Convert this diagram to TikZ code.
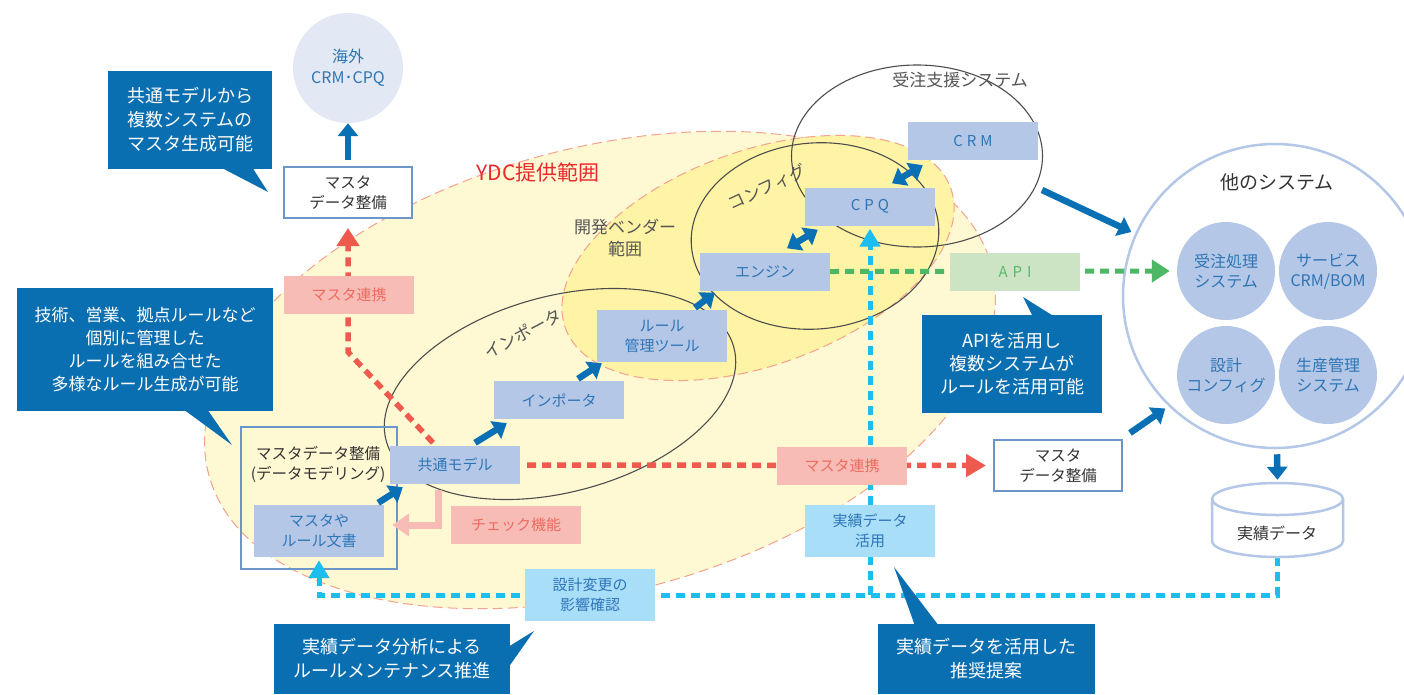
\documentclass[tikz,border=0pt]{standalone}
\usepackage{fontspec}
\setmainfont{Noto Sans CJK JP}
\usetikzlibrary{arrows.meta,shapes.geometric,calc}
\pgfdeclarelayer{bg}
\pgfdeclarelayer{mid}
\pgfsetlayers{bg,mid,main}
\definecolor{boxblue}{HTML}{B4C7E7}
\definecolor{txtblue}{HTML}{2E75B6}
\definecolor{callblue}{HTML}{0A6FB1}
\definecolor{arrblue}{HTML}{0A70B5}
\definecolor{pinkbox}{HTML}{F8BCB6}
\definecolor{pinktxt}{HTML}{EE6B5F}
\definecolor{reddash}{HTML}{EF5A4E}
\definecolor{cyandash}{HTML}{1CBEF0}
\definecolor{cyanbox}{HTML}{A9DEF9}
\definecolor{greendash}{HTML}{4CB765}
\definecolor{apibox}{HTML}{CCE4C4}
\definecolor{apitxt}{HTML}{5CB86D}
\definecolor{outl}{HTML}{6C95C9}
\definecolor{ylight}{HTML}{FFF9D3}
\definecolor{ydark}{HTML}{FFF3A5}
\definecolor{ydash}{HTML}{F4A28D}
\definecolor{kaigaifill}{HTML}{E2E9F4}
\definecolor{ydc}{HTML}{E8292E}
\definecolor{lbl}{HTML}{555555}
\definecolor{dtxt}{HTML}{333333}
\definecolor{ellgray}{HTML}{4D4D4D}
\begin{document}
\begin{tikzpicture}[x=1pt,y=-1pt,
 bx/.style={fill=boxblue,text=txtblue,inner sep=0pt,minimum width=130pt,minimum height=38pt,align=center,font=\fontsize{15}{20}\selectfont},
 bxtwo/.style={bx,minimum height=52pt},
 pk/.style={bx,fill=pinkbox,text=pinktxt},
 cy/.style={bxtwo,fill=cyanbox},
 wb/.style={draw=outl,line width=2pt,fill=white,text=dtxt,inner sep=0pt,minimum width=128pt,minimum height=51pt,align=center,font=\fontsize{15.5}{20}\selectfont},
 call/.style={fill=callblue,text=white,inner sep=0pt,align=center,font=\fontsize{18}{24}\selectfont},
 sc/.style={circle,fill=boxblue,text=txtblue,inner sep=0pt,minimum size=98pt,align=center,font=\fontsize{16}{20}\selectfont},
 lab/.style={text=lbl,font=\fontsize{17}{22}\selectfont,align=center,inner sep=0pt},
 blk/.style={draw=ellgray,line width=1.1pt},
 ba/.style={draw=arrblue,line width=6.5pt,-{Triangle[length=13pt,width=20pt]}},
 bda/.style={draw=arrblue,line width=6.5pt,{Triangle[length=13pt,width=20pt]}-{Triangle[length=13pt,width=20pt]}},
 rdash/.style={draw=reddash,line width=5.5pt,dash pattern=on 9pt off 6pt},
 cdash/.style={draw=cyandash,line width=5pt,dash pattern=on 9pt off 6pt},
 gdash/.style={draw=greendash,line width=5pt,dash pattern=on 9pt off 6pt},
]
\useasboundingbox (0,0) rectangle (1404,694);

\begin{pgfonlayer}{bg}
\fill[white] (0,0) rectangle (1404,694);
\filldraw[fill=ylight,draw=ydash,line width=1pt,dash pattern=on 10pt off 5pt,rotate around={15:(600,370)}] (600,370) ellipse [x radius=405,y radius=222];
\filldraw[fill=ydark,draw=ydash,line width=1pt,dash pattern=on 10pt off 5pt,rotate around={20:(758,258)}] (758,258) ellipse [x radius=205,y radius=107];
\draw[blk,rotate around={15:(560,394)}] (560,394) ellipse [x radius=180,y radius=98];
\draw[blk,rotate around={5:(815,236)}] (815,236) ellipse [x radius=124,y radius=93];
\node[ellipse,blk,inner sep=0pt,minimum width=251pt,minimum height=182pt] (juchu) at (917,156) {};
\node[circle,draw=boxblue,line width=2.5pt,fill=white,minimum size=304pt,inner sep=0pt] (oth) at (1275,296) {};
\node[text=ydc,font=\fontsize{21}{24}\selectfont,inner sep=0pt] (ydcl) at (538,172) {YDC提供範囲};
\node[lab] (vend) at (625,238) {開発ベンダー\\範囲};
\node[lab] (jl) at (960,80) {受注支援システム};
\node[lab,rotate=28] (impl) at (523,333) {インポータ};
\node[lab,rotate=25] (confl) at (767,187) {コンフィグ};
\node[text=dtxt,font=\fontsize{19}{22}\selectfont,inner sep=0pt] (othl) at (1277,182) {他のシステム};
\end{pgfonlayer}

% nodes
\node[circle,fill=kaigaifill,text=txtblue,minimum size=110pt,inner sep=0pt,align=center,font=\fontsize{16}{21}\selectfont] (kaigai) at (348,68) {海外\\CRM･CPQ};
\node[wb] (masta1) at (348,192.5) {マスタ\\データ整備};
\node[call,minimum width=164pt,minimum height=98pt] (c1) at (190,120) {共通モデルから\\複数システムの\\マスタ生成可能};
\node[call,minimum width=256pt,minimum height=123pt,font=\fontsize{17}{23}\selectfont] (c2) at (145,349.5) {技術、営業、拠点ルールなど\\個別に管理した\\ルールを組み合せた\\多様なルール生成が可能};
\node[pk] (renkei1) at (349,294.5) {マスタ連携};
\node[bx] (kyotsu) at (455,465) {共通モデル};
\node[bxtwo] (mastaya) at (319,531) {マスタや\\ルール文書};
\node[text=dtxt,font=\fontsize{15.5}{20}\selectfont,align=center,inner sep=0pt] (oboxl) at (318,464.5) {マスタデータ整備\\(データモデリング)};
\node[pk] (check) at (516,524.5) {チェック機能};
\node[bx] (importer) at (559,400) {インポータ};
\node[bxtwo] (rule) at (662,336) {ルール\\管理ツール};
\node[bx] (engine) at (765,271.5) {エンジン};
\node[bx] (cpq) at (870,206.5) {C\hspace{4pt}P\hspace{4pt}Q};
\node[bx] (crm) at (973,141) {C\hspace{4pt}R\hspace{4pt}M};
\node[bx,fill=apibox,text=apitxt] (api) at (1015,271.5) {A\hspace{5pt}P\hspace{5pt}I};
\node[call,minimum width=180pt,minimum height=98pt,font=\fontsize{18}{23}\selectfont] (c3) at (1012,364) {APIを活用し\\複数システムが\\ルールを活用可能};
\node[pk] (renkei2) at (842,465.5) {マスタ連携};
\node[wb] (masta2) at (1058,465.5) {マスタ\\データ整備};
\node[cy] (katsuyo) at (870,531) {実績データ\\活用};
\node[cy] (sekkei) at (590,595) {設計変更の\\影響確認};
\node[call,minimum width=236pt,minimum height=70pt] (c4) at (392,659) {実績データ分析による\\ルールメンテナンス推進};
\node[call,minimum width=217pt,minimum height=70pt] (c5) at (986.5,659) {実績データを活用した\\推奨提案};
\node[sc] (s1) at (1226,271) {受注処理\\システム};
\node[sc] (s2) at (1328,271) {サービス\\CRM/BOM};
\node[sc] (s3) at (1226,375) {設計\\コンフィグ};
\node[sc] (s4) at (1328,375) {生産管理\\システム};
\node[inner sep=0pt,minimum width=131pt,minimum height=74pt] (jd) at (1277.5,520) {};
\filldraw[fill=white,draw=boxblue,line width=2.5pt] (1212,499) -- (1212,541) arc[start angle=180,end angle=0,x radius=65.5,y radius=16] -- (1343,499) arc[start angle=0,end angle=-180,x radius=65.5,y radius=16] -- cycle;
\draw[boxblue,line width=2.5pt] (1212,499) arc[start angle=180,end angle=0,x radius=65.5,y radius=16];
\node[text=dtxt,font=\fontsize{16}{20}\selectfont,inner sep=0pt] (jdl) at (1277,533) {実績データ};

% callout tails
\fill[callblue] (220,167) -- (268,192) -- (252,167) -- cycle;
\fill[callblue] (183,409) -- (232,445) -- (207,409) -- cycle;
\fill[callblue] (1033,317) -- (1023,297) -- (1055,317) -- cycle;
\fill[callblue] (508,647) -- (534,631) -- (508,668) -- cycle;
\fill[callblue] (915,626) -- (894,567) -- (939,626) -- cycle;

% dashed connectors
\begin{pgfonlayer}{mid}
\node[draw=outl,line width=2pt,inner sep=0pt,minimum width=156pt,minimum height=142pt] (obox) at (319,498) {};
\draw[rdash,-{Triangle[length=20pt,width=22pt]}] ($(kyotsu.east)+(7,0)$) -- ($(masta2.west)+(-7,0)$);
\coordinate (rb) at (348,352);
\draw[rdash,-{Triangle[length=18pt,width=22pt]}] ($(kyotsu.north)+(-22,-3)$) -- (rb) -- ($(masta1.south)+(0,9)$);
\draw[cdash,-{Triangle[length=18pt,width=20pt]}] (jd.south) -- (jd.south |- sekkei.center) -- (mastaya.south |- sekkei.center) -- ($(mastaya.south)+(0,3)$);
\draw[cdash,-{Triangle[length=18pt,width=20pt]}] (cpq.south |- sekkei.center) -- ($(cpq.south)+(0,3)$);
\draw[gdash,-{Triangle[length=18pt,width=22pt]}] (engine.east) -- ($(s1.west)+(-7,0)$);
\end{pgfonlayer}

% solid arrows
\draw[ba] ($(mastaya.north east)+(-6,-2)$) -- ($(kyotsu.south west)+(13,3)$);
\draw[ba] ($(kyotsu.north)+(20,-3)$) -- ($(importer.south west)+(13,4)$);
\draw[ba] ($(importer.north)+(19,-2)$) -- ($(rule.south west)+(5,1)$);
\draw[ba] ($(rule.north)+(33,-2)$) -- ($(engine.south west)+(15,2)$);
\draw[bda] ($(engine.north)+(22,-4)$) -- ($(cpq.south west)+(13,4)$);
\draw[bda] ($(cpq.north)+(22,-4)$) -- ($(crm.south west)+(15,5)$);
\draw[ba,shorten >=4pt] ($(juchu.east)+(-1,34)$) -- (oth.156);
\draw[ba,shorten >=4pt] ($(masta2.north east)+(7,-6)$) -- (oth.-134);
\draw[ba] ($(oth.south)+(2,5)$) -- ($(jd.north)+(0,-3)$);
\draw[ba] ($(masta1.north)+(0,-6)$) -- (kaigai.south);
\draw[draw=pinkbox,line width=7pt,-{Triangle[length=17pt,width=22pt]}] ($(kyotsu.south)+(-17,6)$) |- ($(mastaya.east)+(8,-6)$);
\end{tikzpicture}
\end{document}
